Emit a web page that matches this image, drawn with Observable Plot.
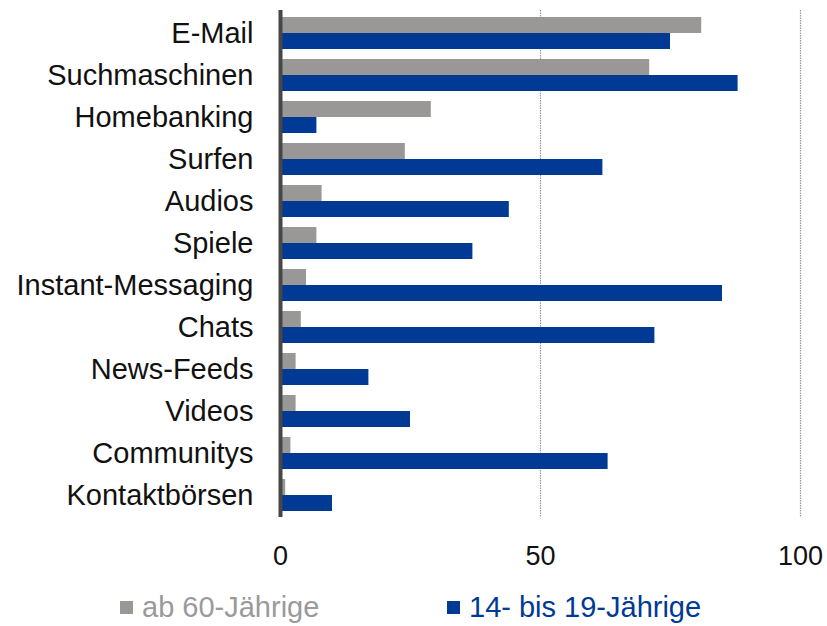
<!DOCTYPE html>
<html><head><meta charset="utf-8">
<script src="https://cdn.jsdelivr.net/npm/d3@7"></script>
<script src="https://cdn.jsdelivr.net/npm/@observablehq/plot@0.6"></script>
<style>
body{margin:0;background:#fff;font-family:"Liberation Sans",Arial,sans-serif}
#legend{position:relative;width:827px;height:41px;font-size:29px;line-height:29px}
.item{position:absolute;top:8px;display:flex;align-items:center;white-space:nowrap}
.sw{width:13px;height:13px;margin-right:9px}
</style>
</head><body><div id="chart"></div><div id="legend"></div><script>
const categories = ["E-Mail","Suchmaschinen","Homebanking","Surfen","Audios","Spiele","Instant-Messaging","Chats","News-Feeds","Videos","Communitys","Kontaktbörsen"];
const seriesNames = ["ab 60-Jährige","14- bis 19-Jährige"];
const seniors = [81,71,29,24,8,7,5,4,3,3,2,1];
const youth = [75,88,7,62,44,37,85,72,17,25,63,10];
const xTicks = [0,50,100];
const colors = ["#999896","#003a94"];

const data = categories.flatMap((c,i)=>[
  {cat:c, group:seriesNames[0], value:seniors[i]},
  {cat:c, group:seriesNames[1], value:youth[i]}
]);

const chart = Plot.plot({
  width:827, height:585,
  marginLeft:280, marginRight:27, marginTop:10, marginBottom:68,
  style:{fontFamily:"Liberation Sans, Arial, sans-serif", fontSize:"29px", color:"#111", background:"#fff"},
  x:{domain:[0,100], ticks:xTicks, tickSize:0, tickPadding:28, label:null},
  y:{domain:categories, paddingInner:0.24, paddingOuter:0.127, tickSize:0, tickPadding:27, label:null},
  color:{domain:seriesNames, range:colors},
  marks:[
    Plot.ruleX([50,100],{stroke:"#999", strokeDasharray:"1.5,1", strokeWidth:1.2}),
    Plot.barX(data.filter(d=>d.group===seriesNames[0]),{y:"cat", x:"value", fill:"group", insetBottom:16}),
    Plot.barX(data.filter(d=>d.group===seriesNames[1]),{y:"cat", x:"value", fill:"group", insetTop:16}),
    Plot.ruleX([0],{stroke:"#474747", strokeWidth:4})
  ]
});
chart.querySelectorAll('g[aria-label="x-axis tick label"] text').forEach(t=>t.style.fontSize="27px");
document.getElementById("chart").appendChild(chart);

const legend = document.getElementById("legend");
const pos = [120, 447];
seriesNames.forEach((s,i)=>{
  const it = document.createElement("div");
  it.className="item"; it.style.left=pos[i]+"px"; it.style.color = i===0 ? "#9a9a9a" : "#003a94";
  const sw = document.createElement("div"); sw.className="sw"; sw.style.background=colors[i];
  const t = document.createElement("span"); t.textContent=s;
  it.appendChild(sw); it.appendChild(t); legend.appendChild(it);
});
</script></body></html>
